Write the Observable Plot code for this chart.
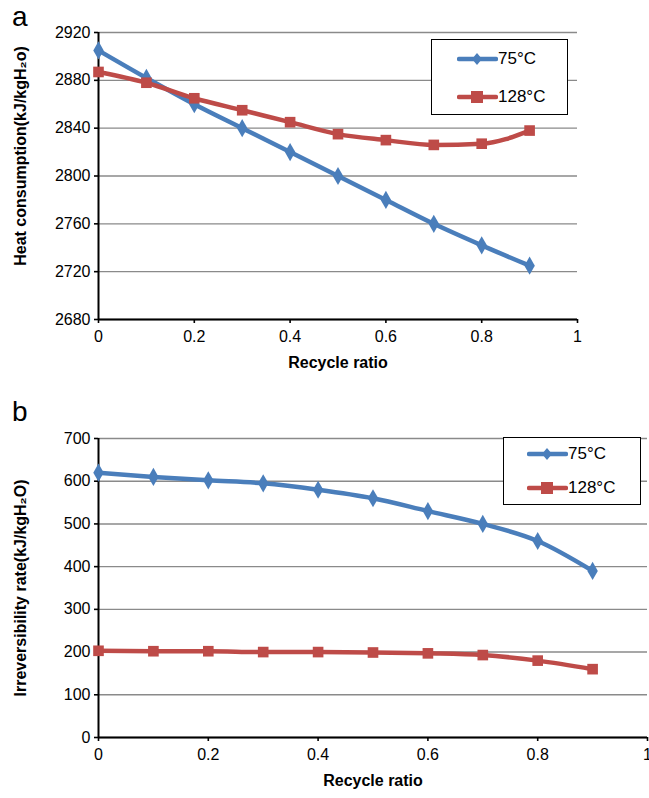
<!DOCTYPE html>
<html><head><meta charset="utf-8">
<script src="https://cdn.jsdelivr.net/npm/d3@7"></script>
<script src="https://cdn.jsdelivr.net/npm/@observablehq/plot@0.6"></script>
<style>
html,body{margin:0;padding:0;background:#fff;}
body{font-family:Arial,"Liberation Sans",sans-serif;}
#wrap{position:relative;width:649px;height:798px;overflow:hidden;}
.panel{position:absolute;left:0;z-index:0;}
.letter{position:absolute;font-size:28px;line-height:1;color:#000;z-index:5;}
.legend{position:absolute;box-sizing:border-box;border:1.6px solid #000;background:#fff;z-index:5;}
.item{position:absolute;display:flex;align-items:center;font-size:17px;color:#000;}
.item svg{display:block;}
</style>
</head><body>
<div id="wrap"></div>
<script>
// ---- data ----
const ratio = [0, 0.1, 0.2, 0.3, 0.4, 0.5, 0.6, 0.7, 0.8, 0.9];
const seriesNames = ["75°C", "128°C"];
const heat75  = [2905, 2882, 2860, 2840, 2820, 2800, 2780, 2760, 2742, 2725];
const heat128 = [2887, 2878, 2865, 2855, 2845, 2835, 2830, 2826, 2827, 2838];
const irr75   = [620, 610, 602, 595, 580, 560, 530, 500, 460, 390];
const irr128  = [203, 202, 202, 200, 200, 199, 197, 193, 180, 160];
const xTicks = [0, 0.2, 0.4, 0.6, 0.8, 1];
const heatTicks = [2680, 2720, 2760, 2800, 2840, 2880, 2920];
const irrTicks = [0, 100, 200, 300, 400, 500, 600, 700];
const colors = ["#4a7ebb", "#be4b48"];
const font = "Arial, 'Liberation Sans', sans-serif";

function makePanel(o) {
  const rows = ratio.flatMap((r, i) => [
    {r, v: o.v75[i], s: seriesNames[0]},
    {r, v: o.v128[i], s: seriesNames[1]}
  ]);
  return Plot.plot({
    width: 649, height: o.height,
    marginLeft: 98, marginRight: o.marginRight, marginTop: o.marginTop, marginBottom: o.marginBottom,
    style: {fontFamily: font, fontSize: "16px", color: "#000", background: "#fff", overflow: "visible"},
    x: {domain: [0, 1]},
    y: {domain: [o.yTicks[0], o.yTicks[o.yTicks.length - 1]]},
    color: {domain: seriesNames, range: colors},
    marks: [
      Plot.gridY(o.yTicks, {stroke: "#8a8a8a", strokeOpacity: 1, strokeWidth: 1.4}),
      Plot.axisY(o.yTicks, {tickSize: 4, tickPadding: 4, label: null, fontSize: 16, strokeWidth: 1.6, tickFormat: d => String(d)}),
      Plot.axisX(xTicks, {tickSize: 4, tickPadding: 7, label: null, fontSize: 16, strokeWidth: 1.6, tickFormat: d => String(d)}),
      Plot.ruleX([0], {stroke: "#000", strokeWidth: 2}),
      Plot.ruleY([o.yTicks[0]], {stroke: "#000", strokeWidth: 2}),
      Plot.line(rows, {x: "r", y: "v", stroke: "s", strokeWidth: 4.5, curve: "monotone-x"}),
      Plot.dot(rows.filter(d => d.s === seriesNames[0]), {x: "r", y: "v", fill: "s", symbol: "diamond", r: 5.5}),
      Plot.dot(rows.filter(d => d.s === seriesNames[1]), {x: "r", y: "v", fill: "s", symbol: "square", r: 6}),
      Plot.text([o.yLabel], {frameAnchor: "left", textAnchor: "middle", rotate: -90, dx: -78, dy: o.labelDy, fontWeight: "bold", fontSize: 16}),
      Plot.text(["Recycle ratio"], {frameAnchor: "bottom", dy: 48, fontWeight: "bold", fontSize: 16})
    ]
  });
}

const wrap = document.getElementById("wrap");

function addPanel(top, svg, letter, legend) {
  const d = document.createElement("div");
  d.className = "panel"; d.style.top = top + "px";
  d.appendChild(svg);
  wrap.appendChild(d);
  const l = document.createElement("div");
  l.className = "letter"; l.textContent = letter;
  l.style.left = "12px"; l.style.top = (top + 3) + "px";
  wrap.appendChild(l);
  const box = document.createElement("div");
  box.className = "legend";
  Object.assign(box.style, {left: legend.x + "px", top: legend.y + "px", width: legend.w + "px", height: legend.h + "px"});
  seriesNames.forEach((name, i) => {
    const it = document.createElement("div");
    it.className = "item";
    it.style.left = legend.sx + "px";
    it.style.top = (legend.iy[i] - 10) + "px";
    it.style.height = "20px";
    const sym = i === 0
      ? `<path d="M20,4 L25,10 L20,16 L15,10 Z" fill="${colors[0]}"/>`
      : `<rect x="14" y="4" width="12" height="12" fill="${colors[1]}"/>`;
    it.innerHTML = `<svg width="41" height="20"><line x1="2" x2="39" y1="10" y2="10" stroke="${colors[i]}" stroke-width="4.5" stroke-linecap="round"/>${sym}</svg><span>${name}</span>`;
    box.appendChild(it);
  });
  wrap.appendChild(box);
}

addPanel(0, makePanel({
  v75: heat75, v128: heat128, yTicks: heatTicks,
  yLabel: "Heat consumption(kJ/kgH₂o)", labelDy: -20,
  height: 395, marginTop: 32, marginBottom: 76, marginRight: 72
}), "a", {x: 431, y: 39, w: 137, h: 76, sx: 25, iy: [19, 57]});

addPanel(395, makePanel({
  v75: irr75, v128: irr128, yTicks: irrTicks,
  yLabel: "Irreversibility rate(kJ/kgH₂O)", labelDy: 0,
  height: 403, marginTop: 43, marginBottom: 61, marginRight: 2
}), "b", {x: 503, y: 437, w: 138, h: 68, sx: 23, iy: [16, 50]});
</script>
</body></html>
